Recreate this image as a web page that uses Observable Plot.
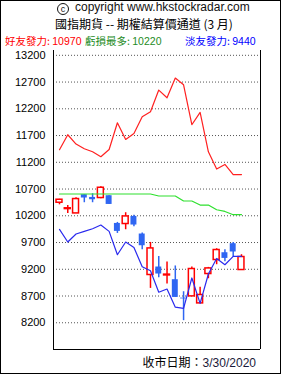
<!DOCTYPE html>
<html><head><meta charset="utf-8">
<script src="https://cdn.jsdelivr.net/npm/d3@7"></script>
<script src="https://cdn.jsdelivr.net/npm/@observablehq/plot@0.6"></script>
<style>
body{margin:0;background:#fff;}
#wrap{position:relative;width:279px;height:372px;border:1px solid #000;background:#fff;overflow:hidden;}
.t{position:absolute;white-space:nowrap;}
#l1{left:56px;top:0px;font:12px "Liberation Sans",Arial,sans-serif;line-height:13px;color:#111;}
#l1 .c{display:inline-block;width:10px;height:10px;border:1px solid #111;border-radius:50%;font-size:9px;line-height:10px;text-align:center;vertical-align:-1px;margin-right:6px;}
#l2{left:0;width:286px;text-align:center;top:16px;font:12px "Noto Sans CJK TC",sans-serif;line-height:14px;color:#000;}
.lg{top:33px;font:10.5px "Noto Sans CJK TC",sans-serif;line-height:13px;}
.lg .n{font-family:"Liberation Sans",Arial,sans-serif;font-size:10.5px;}
#chart{position:absolute;left:0;top:48px;}
#foot{right:24px;top:354px;font:12px "Noto Sans CJK TC",sans-serif;line-height:14px;color:#000;}
#foot .n{font-family:"Liberation Sans",Arial,sans-serif;color:#1a1a3a;}
</style></head><body>
<div id="wrap">
  <div class="t" id="l1"><span class="c">c</span>copyright www.hkstockradar.com</div>
  <div class="t" id="l2">國指期貨 -- 期權結算價通道 (3 月)</div>
  <div class="t lg" id="lgR" style="left:4px;color:#ff0000">好友發力: <span class="n">10970</span></div>
  <div class="t lg" id="lgG" style="left:84px;color:#1e8c1e">虧損最多: <span class="n">10220</span></div>
  <div class="t lg" id="lgB" style="left:184px;color:#0000ff">淡友發力: <span class="n">9440</span></div>
  <div id="chart"></div>
  <div class="t" id="foot">收市日期：<span class="n">3/30/2020</span></div>
</div>
<script>
const yTicks = [13200,12700,12200,11700,11200,10700,10200,9700,9200,8700,8200];
const open  = [10444,10325,10244,10593,10543,10532,10575,10057,10046,10188,9859,9093,9242,9085,9005,8660,8693,8562,9111,9373,9509,9678,9186];
const close = [10500,10340,10513,10532,10500,10724,10412,9908,10188,10027,9640,9590,9111,9100,8674,8646,9205,8719,9216,9560,9403,9523,9429];
const high  = [10508,10393,10537,10593,10612,10743,10575,10076,10257,10210,9880,9702,9440,9336,9262,8780,9242,8862,9235,9584,9565,9702,9472];
const low   = [10405,10244,10244,10444,10444,10519,10412,9870,9939,9995,9565,8842,9042,8924,8674,8239,8693,8562,9023,9285,9341,9430,9186];
const bullLine = [11435,11715,11541,11453,11397,11304,11440,11939,11627,11739,12051,12145,12550,12406,12775,12649,11902,12132,11397,11074,11160,10970,10970];
const lossLine = [10607,10607,10607,10607,10607,10607,10607,10607,10607,10607,10607,10607,10570,10570,10570,10476,10476,10401,10401,10313,10281,10220,10220];
const bearLine = [9945,9709,9859,9908,9958,10027,9908,9472,9709,9609,9248,9173,8771,8831,8491,8468,9037,8562,9111,9403,9285,9440,9440];

const candles = open.map((o,i)=>({i, open:o, close:close[i], high:high[i], low:low[i], up: close[i] >= o}));
const lines = bullLine.map((v,i)=>({i, bull:v, loss:lossLine[i], bear:bearLine[i]}));
const xDomain = [-0.725, 24.3];
const yDomain = [7700, 13290];
const RED = "#ff0000", BLUE = "#2f66f2";
const hw = 0.36;

const chart = Plot.plot({
  width: 279, height: 302,
  marginLeft: 52, marginRight: 20, marginTop: 1, marginBottom: 2,
  style: {fontSize: "11px", fontFamily: "Liberation Sans, Arial, sans-serif", background: "transparent", color: "#000"},
  x: {type: "linear", domain: xDomain, axis: null},
  y: {domain: yDomain, ticks: yTicks, tickSize: 0, tickPadding: 8, label: null, tickFormat: d => String(d)},
  marks: [
    Plot.ruleY(yTicks, {stroke: "#555", strokeDasharray: "1,2", strokeWidth: 1}),
    Plot.ruleX(candles, {x: "i", y1: "low", y2: "high", stroke: d => d.up ? RED : BLUE, strokeWidth: 1.5}),
    Plot.rect(candles.filter(d => !d.up), {x1: d => d.i - hw, x2: d => d.i + hw, y1: "open", y2: "close", fill: BLUE, inset: 0}),
    Plot.rect(candles.filter(d => d.up), {x1: d => d.i - hw, x2: d => d.i + hw, y1: "open", y2: "close", fill: "white", stroke: RED, strokeWidth: 1.5, inset: 0}),
    Plot.line(lines, {x: "i", y: "bull", stroke: "#ff2020", strokeWidth: 1.2}),
    Plot.line(lines, {x: "i", y: "loss", stroke: "#2ee02e", strokeWidth: 1.2}),
    Plot.line(lines, {x: "i", y: "bear", stroke: "#2a2aee", strokeWidth: 1.2}),
    Plot.ruleX([xDomain[0], xDomain[1]], {stroke: "#000", strokeWidth: 1}),
    Plot.ruleY([yDomain[0]], {stroke: "#000", strokeWidth: 1})
  ]
});
document.getElementById("chart").appendChild(chart);
</script>
</body></html>
